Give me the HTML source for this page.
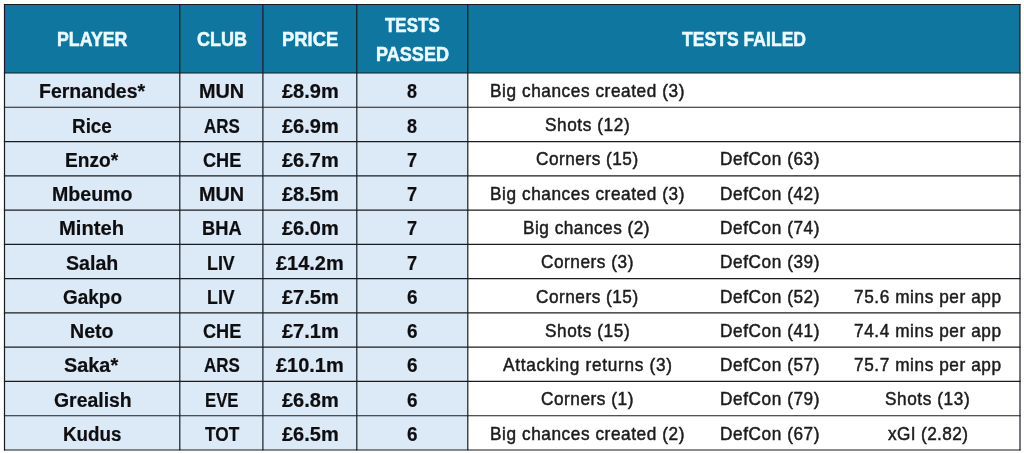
<!DOCTYPE html>
<html lang="en"><head><meta charset="utf-8"><title>Tests passed / failed</title>
<style>
html,body{margin:0;padding:0;background:#fff;}
body{width:1024px;height:453px;position:relative;overflow:hidden;font-family:"Liberation Sans",sans-serif;}
.grid{position:absolute;left:0;top:0;}
.t{position:absolute;white-space:nowrap;transform-origin:0 0;line-height:0;height:0;}
.b{font-weight:bold;color:#0e0e10;font-size:19.6px;-webkit-text-stroke:0.2px #0e0e10;}
.r{color:#1c1c1c;font-size:18.5px;-webkit-text-stroke:0.5px #1c1c1c;}
.h{font-weight:bold;color:#e9fbff;font-size:19.5px;-webkit-text-stroke:0.5px #e9fbff;}
</style></head><body>

<svg class="grid" width="1024" height="453" viewBox="0 0 1024 453">
<rect x="4.5" y="4.5" width="1015.50" height="68.50" fill="#0f76a0"/>
<rect x="4.5" y="73.0" width="463.30" height="377.00" fill="#dce9f6"/>
<line x1="4.50" y1="3.90" x2="4.50" y2="450.60" stroke="#181c20" stroke-width="1.2"/>
<line x1="179.80" y1="3.90" x2="179.80" y2="450.60" stroke="#181c20" stroke-width="1.2"/>
<line x1="262.90" y1="3.90" x2="262.90" y2="450.60" stroke="#181c20" stroke-width="1.2"/>
<line x1="356.80" y1="3.90" x2="356.80" y2="450.60" stroke="#181c20" stroke-width="1.2"/>
<line x1="467.80" y1="3.90" x2="467.80" y2="450.60" stroke="#181c20" stroke-width="1.2"/>
<line x1="1020.00" y1="3.90" x2="1020.00" y2="450.60" stroke="#181c20" stroke-width="1.2"/>
<line x1="3.90" y1="4.50" x2="1020.60" y2="4.50" stroke="#181c20" stroke-width="1.2"/>
<line x1="3.90" y1="73.00" x2="1020.60" y2="73.00" stroke="#181c20" stroke-width="1.2"/>
<line x1="3.90" y1="107.27" x2="1020.60" y2="107.27" stroke="#181c20" stroke-width="1.2"/>
<line x1="3.90" y1="141.55" x2="1020.60" y2="141.55" stroke="#181c20" stroke-width="1.2"/>
<line x1="3.90" y1="175.82" x2="1020.60" y2="175.82" stroke="#181c20" stroke-width="1.2"/>
<line x1="3.90" y1="210.09" x2="1020.60" y2="210.09" stroke="#181c20" stroke-width="1.2"/>
<line x1="3.90" y1="244.36" x2="1020.60" y2="244.36" stroke="#181c20" stroke-width="1.2"/>
<line x1="3.90" y1="278.64" x2="1020.60" y2="278.64" stroke="#181c20" stroke-width="1.2"/>
<line x1="3.90" y1="312.91" x2="1020.60" y2="312.91" stroke="#181c20" stroke-width="1.2"/>
<line x1="3.90" y1="347.18" x2="1020.60" y2="347.18" stroke="#181c20" stroke-width="1.2"/>
<line x1="3.90" y1="381.45" x2="1020.60" y2="381.45" stroke="#181c20" stroke-width="1.2"/>
<line x1="3.90" y1="415.73" x2="1020.60" y2="415.73" stroke="#181c20" stroke-width="1.2"/>
<line x1="3.90" y1="450.00" x2="1020.60" y2="450.00" stroke="#181c20" stroke-width="1.2"/>
</svg>
<span class="t h" style="left:57.49px;top:39.34px;transform:scaleX(0.9105)">PLAYER</span>
<span class="t h" style="left:196.70px;top:39.34px;transform:scaleX(0.9246)">CLUB</span>
<span class="t h" style="left:281.66px;top:39.34px;transform:scaleX(0.9422)">PRICE</span>
<span class="t h" style="left:385.10px;top:24.84px;transform:scaleX(0.8705)">TESTS</span>
<span class="t h" style="left:375.57px;top:53.94px;transform:scaleX(0.9271)">PASSED</span>
<span class="t h" style="left:682.30px;top:39.34px;transform:scaleX(0.9017)">TESTS FAILED</span>
<span class="t b" style="left:38.51px;top:91.31px;transform:scaleX(0.9945)">Fernandes*</span>
<span class="t b" style="left:198.99px;top:91.31px;transform:scaleX(1.0124)">MUN</span>
<span class="t b" style="left:281.75px;top:91.31px;transform:scaleX(1.0202)">£8.9m</span>
<span class="t b" style="left:407.30px;top:91.31px;transform:scaleX(0.9182)">8</span>
<span class="t r" style="left:489.77px;top:90.89px;letter-spacing:0.620px;transform:scaleX(0.9300)">Big chances created (3)</span>
<span class="t b" style="left:71.54px;top:125.58px;transform:scaleX(0.9632)">Rice</span>
<span class="t b" style="left:203.75px;top:125.58px;transform:scaleX(0.8656)">ARS</span>
<span class="t b" style="left:281.75px;top:125.58px;transform:scaleX(1.0202)">£6.9m</span>
<span class="t b" style="left:407.30px;top:125.58px;transform:scaleX(0.9182)">8</span>
<span class="t r" style="left:544.50px;top:125.16px;letter-spacing:0.631px;transform:scaleX(0.9300)">Shots (12)</span>
<span class="t b" style="left:64.52px;top:159.85px;transform:scaleX(0.9758)">Enzo*</span>
<span class="t b" style="left:202.50px;top:159.85px;transform:scaleX(0.9262)">CHE</span>
<span class="t b" style="left:281.75px;top:159.85px;transform:scaleX(1.0202)">£6.7m</span>
<span class="t b" style="left:407.00px;top:159.85px;transform:scaleX(0.9273)">7</span>
<span class="t r" style="left:536.00px;top:159.44px;letter-spacing:0.546px;transform:scaleX(0.9300)">Corners (15)</span>
<span class="t r" style="left:720.07px;top:159.44px;letter-spacing:0.620px;transform:scaleX(0.9300)">DefCon (63)</span>
<span class="t b" style="left:51.50px;top:194.13px;transform:scaleX(0.9990)">Mbeumo</span>
<span class="t b" style="left:198.99px;top:194.13px;transform:scaleX(1.0124)">MUN</span>
<span class="t b" style="left:281.75px;top:194.13px;transform:scaleX(1.0202)">£8.5m</span>
<span class="t b" style="left:407.00px;top:194.13px;transform:scaleX(0.9273)">7</span>
<span class="t r" style="left:489.77px;top:193.71px;letter-spacing:0.620px;transform:scaleX(0.9300)">Big chances created (3)</span>
<span class="t r" style="left:720.07px;top:193.71px;letter-spacing:0.620px;transform:scaleX(0.9300)">DefCon (42)</span>
<span class="t b" style="left:59.47px;top:228.40px;transform:scaleX(1.0301)">Minteh</span>
<span class="t b" style="left:201.57px;top:228.40px;transform:scaleX(0.9322)">BHA</span>
<span class="t b" style="left:281.75px;top:228.40px;transform:scaleX(1.0202)">£6.0m</span>
<span class="t b" style="left:407.00px;top:228.40px;transform:scaleX(0.9273)">7</span>
<span class="t r" style="left:523.07px;top:227.98px;letter-spacing:0.541px;transform:scaleX(0.9300)">Big chances (2)</span>
<span class="t r" style="left:720.07px;top:227.98px;letter-spacing:0.620px;transform:scaleX(0.9300)">DefCon (74)</span>
<span class="t b" style="left:66.25px;top:262.67px;transform:scaleX(0.9989)">Salah</span>
<span class="t b" style="left:207.34px;top:262.67px;transform:scaleX(0.9095)">LIV</span>
<span class="t b" style="left:276.25px;top:262.67px;transform:scaleX(1.0184)">£14.2m</span>
<span class="t b" style="left:407.00px;top:262.67px;transform:scaleX(0.9273)">7</span>
<span class="t r" style="left:540.75px;top:262.25px;letter-spacing:0.581px;transform:scaleX(0.9300)">Corners (3)</span>
<span class="t r" style="left:720.07px;top:262.25px;letter-spacing:0.620px;transform:scaleX(0.9300)">DefCon (39)</span>
<span class="t b" style="left:62.50px;top:296.94px;transform:scaleX(0.9672)">Gakpo</span>
<span class="t b" style="left:207.34px;top:296.94px;transform:scaleX(0.9095)">LIV</span>
<span class="t b" style="left:281.75px;top:296.94px;transform:scaleX(1.0202)">£7.5m</span>
<span class="t b" style="left:406.90px;top:296.94px;transform:scaleX(0.9636)">6</span>
<span class="t r" style="left:536.00px;top:296.53px;letter-spacing:0.546px;transform:scaleX(0.9300)">Corners (15)</span>
<span class="t r" style="left:720.07px;top:296.53px;letter-spacing:0.620px;transform:scaleX(0.9300)">DefCon (52)</span>
<span class="t r" style="left:854.25px;top:296.53px;letter-spacing:0.625px;transform:scaleX(0.9300)">75.6 mins per app</span>
<span class="t b" style="left:69.75px;top:331.22px;transform:scaleX(0.9983)">Neto</span>
<span class="t b" style="left:202.50px;top:331.22px;transform:scaleX(0.9262)">CHE</span>
<span class="t b" style="left:281.75px;top:331.22px;transform:scaleX(1.0202)">£7.1m</span>
<span class="t b" style="left:406.90px;top:331.22px;transform:scaleX(0.9636)">6</span>
<span class="t r" style="left:544.50px;top:330.80px;letter-spacing:0.631px;transform:scaleX(0.9300)">Shots (15)</span>
<span class="t r" style="left:720.07px;top:330.80px;letter-spacing:0.620px;transform:scaleX(0.9300)">DefCon (41)</span>
<span class="t r" style="left:854.25px;top:330.80px;letter-spacing:0.625px;transform:scaleX(0.9300)">74.4 mins per app</span>
<span class="t b" style="left:64.00px;top:365.49px;transform:scaleX(1.0138)">Saka*</span>
<span class="t b" style="left:203.75px;top:365.49px;transform:scaleX(0.8656)">ARS</span>
<span class="t b" style="left:276.25px;top:365.49px;transform:scaleX(1.0184)">£10.1m</span>
<span class="t b" style="left:406.90px;top:365.49px;transform:scaleX(0.9636)">6</span>
<span class="t r" style="left:502.50px;top:365.07px;letter-spacing:0.752px;transform:scaleX(0.9300)">Attacking returns (3)</span>
<span class="t r" style="left:720.07px;top:365.07px;letter-spacing:0.620px;transform:scaleX(0.9300)">DefCon (57)</span>
<span class="t r" style="left:854.25px;top:365.07px;letter-spacing:0.625px;transform:scaleX(0.9300)">75.7 mins per app</span>
<span class="t b" style="left:53.75px;top:399.76px;transform:scaleX(0.9910)">Grealish</span>
<span class="t b" style="left:204.65px;top:399.76px;transform:scaleX(0.8522)">EVE</span>
<span class="t b" style="left:281.75px;top:399.76px;transform:scaleX(1.0202)">£6.8m</span>
<span class="t b" style="left:406.90px;top:399.76px;transform:scaleX(0.9636)">6</span>
<span class="t r" style="left:540.75px;top:399.34px;letter-spacing:0.581px;transform:scaleX(0.9300)">Corners (1)</span>
<span class="t r" style="left:720.07px;top:399.34px;letter-spacing:0.620px;transform:scaleX(0.9300)">DefCon (79)</span>
<span class="t r" style="left:885.00px;top:399.34px;letter-spacing:0.631px;transform:scaleX(0.9300)">Shots (13)</span>
<span class="t b" style="left:62.54px;top:434.04px;transform:scaleX(0.9574)">Kudus</span>
<span class="t b" style="left:204.50px;top:434.04px;transform:scaleX(0.8815)">TOT</span>
<span class="t b" style="left:281.75px;top:434.04px;transform:scaleX(1.0202)">£6.5m</span>
<span class="t b" style="left:406.90px;top:434.04px;transform:scaleX(0.9636)">6</span>
<span class="t r" style="left:489.77px;top:433.62px;letter-spacing:0.620px;transform:scaleX(0.9300)">Big chances created (2)</span>
<span class="t r" style="left:720.07px;top:433.62px;letter-spacing:0.620px;transform:scaleX(0.9300)">DefCon (67)</span>
<span class="t r" style="left:887.50px;top:433.62px;letter-spacing:0.407px;transform:scaleX(0.9300)">xGI (2.82)</span>
</body></html>
